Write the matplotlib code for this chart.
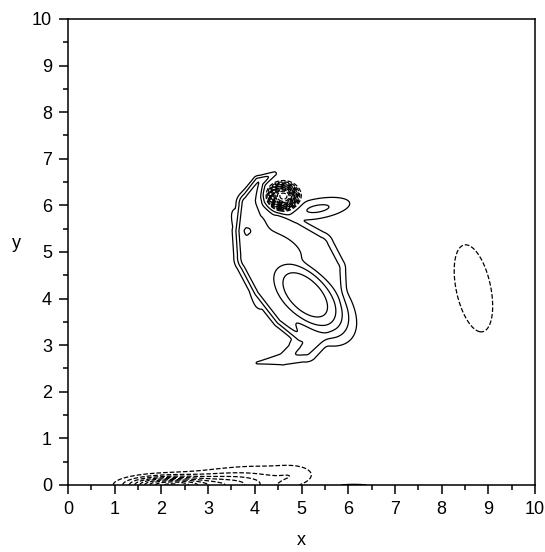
import numpy as np
import matplotlib
matplotlib.use("Agg")
import matplotlib.pyplot as plt

# Positive patches: core, shoulder, eastern lobe
# (centre, amplitude, sigmas along/across tilt, tilt in degrees, shape exponent)
pos_x = [5.08, 4.55, 5.35]
pos_y = [4.08, 5.12, 5.93]
pos_amp = [1.15, 0.70, 0.44]
pos_sa = [0.90, 0.72, 0.55]
pos_sb = [0.49, 0.32, 0.17]
pos_ang = [135.0, 150.0, 10.0]
pos_p = [1.5, 1.5, 1.0]

# Additive patches: vortex core, eastern eddy, wall layer pieces, small wall patch
add_x = [4.60, 8.68, 2.10, 3.30, 3.60, 4.85, 6.10]
add_y = [6.19, 4.22, 0.00, 0.00, 0.02, 0.22, -0.02]
add_amp = [-3.20, -0.28, -1.60, -0.50, -0.40, -0.18, 0.30]
add_sa = [0.23, 1.16, 0.55, 0.70, 1.00, 0.30, 0.40]
add_sb = [0.20, 0.45, 0.12, 0.16, 0.28, 0.14, 0.04]
add_ang = [0.0, 102.0, 0.0, 0.0, 8.0, 0.0, 0.0]
add_p = [1.5, 1.0, 1.0, 1.0, 1.0, 1.0, 1.0]

# Inner filament along the western edge (x, y, amplitude, outer width, inner width)
left_x = [4.42, 4.08, 3.83, 3.82, 3.85, 4.17, 4.60, 4.98]
left_y = [6.68, 6.50, 6.05, 5.45, 4.85, 4.20, 3.60, 3.22]
left_amp = [0.28, 0.60, 0.72, 0.81, 0.74, 0.70, 0.68, 0.58]
left_wo = [0.05, 0.09, 0.14, 0.18, 0.18, 0.17, 0.15, 0.12]
left_wi = [0.05, 0.12, 0.32, 0.58, 0.70, 0.60, 0.38, 0.20]

# Outer filament: under the vortex, down the eastern edge and into the tail
right_x = [4.50, 4.85, 5.40, 5.68, 5.72, 5.48, 5.10, 4.60, 4.05]
right_y = [5.75, 5.50, 5.15, 4.65, 4.00, 3.30, 2.90, 2.70, 2.62]
right_amp = [0.42, 0.50, 0.52, 0.50, 0.50, 0.50, 0.45, 0.34, 0.22]
right_wo = [0.10, 0.17, 0.20, 0.19, 0.18, 0.18, 0.20, 0.12, 0.05]
right_wi = [0.20, 0.35, 0.40, 0.40, 0.40, 0.40, 0.30, 0.12, 0.05]

levels_pos = [0.2, 0.4, 0.6, 0.8, 1.0]
levels_neg = [-3.0, -2.8, -2.6, -2.4, -2.2, -2.0, -1.8, -1.6, -1.4,
              -1.2, -1.0, -0.8, -0.6, -0.4, -0.2]

tick_vals = list(range(0, 11))


def patch(X, Y, x0, y0, a, sa, sb, ang, p):
    t = np.deg2rad(ang)
    u = (X - x0) * np.cos(t) + (Y - y0) * np.sin(t)
    v = -(X - x0) * np.sin(t) + (Y - y0) * np.cos(t)
    q = (u / sa) ** 2 + (v / sb) ** 2
    return a * np.exp(-0.5 * q ** p)


def filament(X, Y, px, py, pa, wo, wi, inner_left):
    out = np.zeros_like(X)
    for i in range(len(px) - 1):
        x0, y0, x1, y1 = px[i], py[i], px[i + 1], py[i + 1]
        dx, dy = x1 - x0, y1 - y0
        L = np.hypot(dx, dy)
        s = np.clip(((X - x0) * dx + (Y - y0) * dy) / L ** 2, 0, 1)
        d = np.hypot(X - (x0 + s * dx), Y - (y0 + s * dy))
        c = (dx * (Y - y0) - dy * (X - x0)) / L
        if not inner_left:
            c = -c
        wgt = 0.5 * (1 + np.tanh(c / 0.12))
        a = pa[i] + s * (pa[i + 1] - pa[i])
        w_out = wo[i] + s * (wo[i + 1] - wo[i])
        w_in = wi[i] + s * (wi[i + 1] - wi[i])
        w = w_out + wgt * (w_in - w_out)
        out = np.maximum(out, a * np.exp(-0.5 * (d / w) ** 2))
    return out


def soft_union(parts, k=6.0):
    acc = np.zeros_like(parts[0])
    for p in parts:
        acc += np.clip(p, 0, None) ** k
    return acc ** (1.0 / k)


xg = np.linspace(0, 10, 1001)
yg = np.linspace(0, 10, 1001)
X, Y = np.meshgrid(xg, yg)

parts = [filament(X, Y, left_x, left_y, left_amp, left_wo, left_wi, True),
         filament(X, Y, right_x, right_y, right_amp, right_wo, right_wi, False)]
for prm in zip(pos_x, pos_y, pos_amp, pos_sa, pos_sb, pos_ang, pos_p):
    parts.append(patch(X, Y, *prm))
Z = soft_union(parts)
for prm in zip(add_x, add_y, add_amp, add_sa, add_sb, add_ang, add_p):
    Z += patch(X, Y, *prm)

plt.rcParams['font.family'] = ['Liberation Sans', 'DejaVu Sans']
fig = plt.figure(figsize=(5.45, 5.52), dpi=100)
ax = fig.add_axes([0.1248, 0.1214, 0.857, 0.8442])

ax.contour(X, Y, Z, levels=levels_neg + levels_pos, colors='k',
           linewidths=0.9, negative_linestyles='dashed')

ax.set_xlim(0, 10)
ax.set_ylim(0, 10)
ax.set_xticks(tick_vals)
ax.set_yticks(tick_vals)
ax.set_xticks(np.arange(0.5, 10, 1.0), minor=True)
ax.set_yticks(np.arange(0.5, 10, 1.0), minor=True)
ax.tick_params(which='major', direction='out', length=6.5, width=1.1, labelsize=13,
               top=False, right=False, pad=5)
ax.tick_params(which='minor', direction='out', length=3.6, width=1.1,
               top=False, right=False)
for s in ax.spines.values():
    s.set_linewidth(1.1)
ax.set_xlabel('x', fontsize=13, labelpad=10)
ax.set_ylabel('y', fontsize=13, rotation=0)
ax.yaxis.set_label_coords(-0.11, 0.5)

fig.savefig('out.png', dpi=100)
